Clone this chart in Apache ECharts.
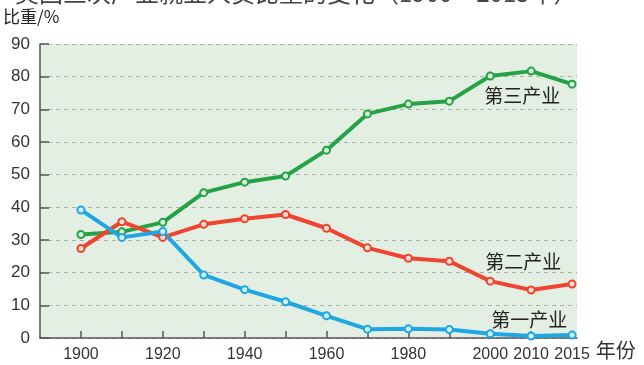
<!DOCTYPE html>
<html>
<head>
<meta charset="utf-8">
<script src="https://cdn.jsdelivr.net/npm/echarts@6/dist/echarts.min.js"></script>
<style>
  html, body { margin: 0; padding: 0; background: #ffffff; }
  #chart { width: 644px; height: 365px; }
</style>
</head>
<body>
<div id="chart"></div>
<script>
// Years on the horizontal axis (evenly spaced, one slot per observation)
const years = [1900, 1910, 1920, 1930, 1940, 1950, 1960, 1970, 1980, 1990, 2000, 2010, 2015];
// Years that carry a printed label under the axis
const labeledYears = [1900, 1920, 1940, 1960, 1980, 2000, 2010, 2015];

// Employment share by sector, %
const tertiary  = [31.7, 32.5, 35.4, 44.5, 47.7, 49.6, 57.5, 68.6, 71.6, 72.5, 80.2, 81.7, 77.7];
const secondary = [27.4, 35.6, 30.8, 34.8, 36.5, 37.8, 33.6, 27.6, 24.4, 23.5, 17.4, 14.7, 16.5];
const primary   = [39.2, 30.8, 32.6, 19.3, 14.8, 11.1, 6.8, 2.7, 2.8, 2.6, 1.3, 0.6, 0.9];

const sectorNames = ['第三产业', '第二产业', '第一产业'];
const yTicks = [0, 10, 20, 30, 40, 50, 60, 70, 80, 90];

const idx = years.map((_, i) => i);
const toPairs = arr => arr.map((v, i) => [i, v]);

function sectorSeries(name, values, color, fill, labelAt, labelOffset) {
  const data = toPairs(values).map((p, i) => {
    if (i !== labelAt) return p;
    return {
      value: p,
      label: {
        show: true,
        position: 'inside',
        offset: labelOffset,
        formatter: name,
        color: '#222',
        fontSize: 19,
        fontFamily: 'Noto Sans CJK SC',
        align: 'center',
        verticalAlign: 'middle'
      }
    };
  });
  return {
    name: name,
    type: 'line',
    data: data,
    symbol: 'circle',
    symbolSize: 7,
    lineStyle: { color: color, width: 4 },
    itemStyle: { color: fill, borderColor: color, borderWidth: 2 },
    label: { show: false },
    emphasis: { disabled: true },
    z: 3
  };
}

const chart = echarts.init(document.getElementById('chart'), null, { renderer: 'canvas' });

chart.setOption({
  animation: false,
  backgroundColor: '#ffffff',
  grid: {
    left: 40, top: 44, right: 67, bottom: 27,
    show: true,
    backgroundColor: '#e3efe2',
    borderWidth: 0
  },
  graphic: [
    {
      type: 'text', left: 15, top: -19, silent: true,
      style: {
        text: '美国三次产业就业人员比重的变化（1900～2015年）',
        font: '24px "Noto Sans CJK SC"', fill: '#444'
      }
    },
    {
      type: 'text', left: 3, top: 8, silent: true,
      style: { text: '比重/%', font: '17px "Noto Sans CJK SC", "Liberation Sans"', fill: '#222' }
    }
  ],
  xAxis: {
    type: 'value',
    min: -1,
    max: 12.12,
    name: '年份',
    nameLocation: 'end',
    nameGap: 15,
    nameTextStyle: {
      color: '#333', fontSize: 20, fontFamily: 'Noto Sans CJK SC',
      verticalAlign: 'top', padding: [2, 0, 0, 0]
    },
    axisLine: { show: true, onZero: false, lineStyle: { color: '#555', width: 1.5 } },
    axisTick: {
      show: true, inside: true, length: 7,
      customValues: idx,
      lineStyle: { color: '#555', width: 1.5 }
    },
    axisLabel: {
      customValues: labeledYears.map(y => years.indexOf(y)),
      formatter: v => String(years[Math.round(v)]),
      color: '#333', fontSize: 16, fontFamily: 'Liberation Sans', margin: 9
    },
    splitLine: { show: false }
  },
  yAxis: {
    type: 'value',
    min: yTicks[0],
    max: yTicks[yTicks.length - 1],
    interval: 10,
    axisLine: { show: true, onZero: false, lineStyle: { color: '#555', width: 1.5 } },
    axisTick: { show: true, inside: true, length: 9, lineStyle: { color: '#555', width: 1.5 } },
    axisLabel: { color: '#333', fontSize: 17, fontFamily: 'Liberation Sans', margin: 10 },
    splitLine: { show: true, lineStyle: { color: '#a9b0a9', type: [4, 4], width: 1 } }
  },
  series: [
    sectorSeries(sectorNames[0], tertiary,  '#26a246', '#d9f0d9', 10, [32, 20]),
    sectorSeries(sectorNames[1], secondary, '#ee4430', '#fbe0d8', 10, [33, -19]),
    sectorSeries(sectorNames[2], primary,   '#1ea7e4', '#d6f0fb', 10, [39, -14])
  ]
});
</script>
</body>
</html>
